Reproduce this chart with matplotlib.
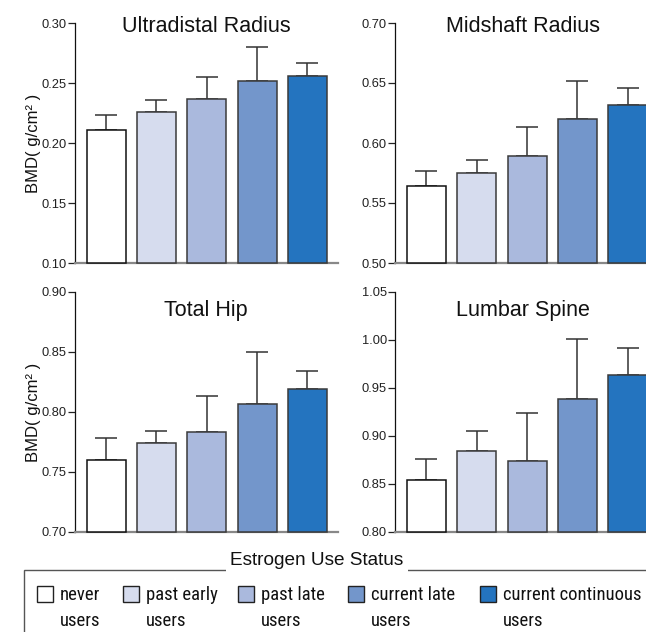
import matplotlib
matplotlib.use('Agg')
import matplotlib.pyplot as plt
import matplotlib.patches as mpatches
from matplotlib import font_manager

# データ (BMD 平均値と上側誤差の端)
groups = ['never\nusers', 'past early\nusers', 'past late\nusers',
          'current late\nusers', 'current continuous\nusers']
colors = ['#ffffff', '#d6dcee', '#aab9dd', '#7396cb', '#2474bf']

sites = ['Ultradistal Radius', 'Midshaft Radius', 'Total Hip', 'Lumbar Spine']
means = [
    [0.211, 0.226, 0.2365, 0.2515, 0.256],
    [0.564, 0.575, 0.5895, 0.620, 0.632],
    [0.760, 0.774, 0.783, 0.807, 0.819],
    [0.854, 0.884, 0.874, 0.939, 0.964],
]
err_top = [
    [0.223, 0.236, 0.255, 0.280, 0.267],
    [0.5765, 0.586, 0.613, 0.652, 0.646],
    [0.778, 0.784, 0.813, 0.850, 0.834],
    [0.876, 0.905, 0.9235, 1.001, 0.9915],
]
ylims = [(0.10, 0.30), (0.50, 0.70), (0.70, 0.90), (0.80, 1.05)]
yticks = [
    [0.10, 0.15, 0.20, 0.25, 0.30],
    [0.50, 0.55, 0.60, 0.65, 0.70],
    [0.70, 0.75, 0.80, 0.85, 0.90],
    [0.80, 0.85, 0.90, 0.95, 1.00, 1.05],
]

# フォント (凡例は細身のフォントを探す)
names = {f.name for f in font_manager.fontManager.ttflist}
base_font = 'Liberation Sans' if 'Liberation Sans' in names else 'DejaVu Sans'
plt.rcParams['font.family'] = [base_font, 'DejaVu Sans']

narrow_path = None
prefs = ['Liberation Sans Narrow', 'Roboto Condensed', 'Open Sans Condensed',
         'Noto Sans', 'Open Sans', 'Roboto', 'DejaVu Sans']
cands = []
for f in font_manager.fontManager.ttflist:
    st = str(f.stretch).lower()
    narrow = ('narrow' in f.name.lower() or 'condensed' in f.name.lower()
              or st in ('condensed', 'semi-condensed', 'extra-condensed')
              or (st.isdigit() and int(st) < 500))
    if narrow and f.style == 'normal' and f.weight in (400, 'normal', 'regular'):
        rank = prefs.index(f.name) if f.name in prefs else len(prefs)
        cands.append((rank, f.fname))
if cands:
    cands.sort()
    narrow_prop = font_manager.FontProperties(fname=cands[0][1])
else:
    narrow_prop = font_manager.FontProperties(family=base_font)

W, H = 646, 632
fig = plt.figure(figsize=(W / 100, H / 100), dpi=100)
renderer = fig.canvas.get_renderer()


def px(x, y):
    return x / W, 1 - y / H


# 各パネルの位置 (左端x, 上端y) ピクセル
ax_w, ax_h = 262.6, 240
origins = [(75, 23), (395.3, 23), (75, 292), (395.3, 292)]
title_y = [0.961, 0.961, 0.901, 0.901]
title_x = [0.5, 0.485, 0.5, 0.485]

x = list(range(len(groups)))
for i, site in enumerate(sites):
    x0, y0 = origins[i]
    fx, fy = px(x0, y0 + ax_h)
    ax = fig.add_axes([fx, fy, ax_w / W, ax_h / H])
    lo, hi = ylims[i]
    heights = [m - lo for m in means[i]]
    yerr = [[0] * len(means[i]), [e - m for e, m in zip(err_top[i], means[i])]]
    edges = ['#111111'] + ['#3a3a3a'] * 4
    ax.bar(x, heights, bottom=lo, width=0.775, color=colors, edgecolor=edges,
           linewidth=1.1, zorder=3, clip_on=False)
    ax.errorbar(x, means[i], yerr=yerr, fmt='none', ecolor='#333333',
                elinewidth=1.1, capsize=8, capthick=1.1, zorder=2)
    ax.set_xlim(-0.62, 4.6)
    ax.set_ylim(lo, hi)
    ax.set_yticks(yticks[i])
    ax.set_yticklabels(['%.2f' % t for t in yticks[i]])
    ax.set_xticks([])
    ax.tick_params(axis='y', direction='out', length=5, width=0.9, pad=1,
                   labelsize=9.3, colors='#222222')
    for s in ['top', 'right']:
        ax.spines[s].set_visible(False)
    ax.spines['left'].set_color('#111111')
    ax.spines['left'].set_linewidth(0.9)
    ax.spines['bottom'].set_color('#888888')
    ax.spines['bottom'].set_linewidth(1.6)
    ax.text(title_x[i], title_y[i], site, transform=ax.transAxes,
            ha='center', va='baseline', fontsize=15.5, color='#111111')
    if i % 2 == 0:
        ax.set_ylabel('BMD( g/cm² )', fontsize=12, color='#111111')
        ax.yaxis.set_label_coords(-0.13, 0.5)

# 凡例の枠とタイトル
bx, by = px(24, 570)
frame = mpatches.Rectangle((bx, -0.2), 1.2, by + 0.2, transform=fig.transFigure,
                           fill=False, edgecolor='#555555', linewidth=1.0,
                           clip_on=False)
fig.add_artist(frame)
tx, ty = px(317, 565)
fig.text(tx, ty, 'Estrogen Use Status', ha='center', va='baseline',
         fontsize=13.7, color='#111111',
         bbox=dict(facecolor='white', edgecolor='none', pad=3))

# 凡例の文字サイズ: "past early" が約72pxになるように合わせる
probe = fig.text(0, 0, 'past early', fontproperties=narrow_prop, fontsize=15)
pw = probe.get_window_extent(renderer).width
probe.remove()
leg_size = 15 * 72.0 / pw
line_gap = 26.5  # 行の間隔 px

# 凡例項目
sq_x = [37, 123, 238, 348, 480]
sq = 16
for gx, label, c in zip(sq_x, groups, colors):
    rx, ry = px(gx, 585.5 + sq)
    fig.add_artist(mpatches.Rectangle((rx, ry), sq / W, sq / H,
                                      transform=fig.transFigure,
                                      facecolor=c, edgecolor='#222222',
                                      linewidth=1.0))
    for k, part in enumerate(label.split('\n')):
        lx, ly = px(gx + 23, 600 + k * line_gap)
        fig.text(lx, ly, part, ha='left', va='baseline',
                 fontproperties=narrow_prop, fontsize=leg_size,
                 color='#111111')

fig.savefig('out.png', dpi=100)
